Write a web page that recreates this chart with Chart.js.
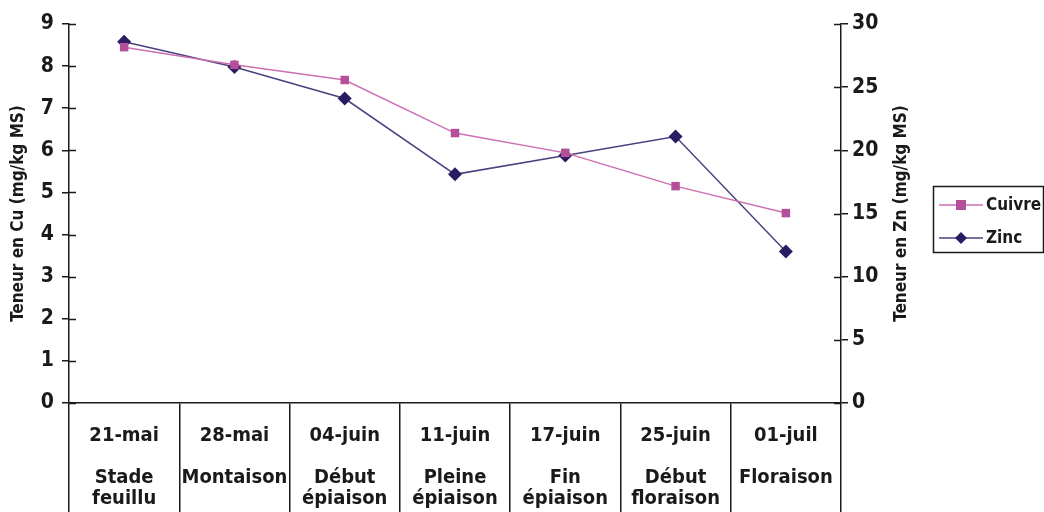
<!DOCTYPE html>
<html>
<head>
<meta charset="utf-8">
<script src="https://cdn.jsdelivr.net/npm/chart.js@4.4.0/dist/chart.umd.min.js"></script>
<style>
  html, body { margin: 0; padding: 0; background: #fff; }
  #wrap { width: 1044px; height: 512px; position: relative; }
</style>
</head>
<body>
<div id="wrap"><canvas id="chart"></canvas></div>
<script>
// Données
const dates = ['21-mai', '28-mai', '04-juin', '11-juin', '17-juin', '25-juin', '01-juil'];
const stades = [['Stade', 'feuillu'], ['Montaison'], ['Début', 'épiaison'], ['Pleine', 'épiaison'],
                ['Fin', 'épiaison'], ['Début', 'floraison'], ['Floraison']];
const cuivre = [8.45, 8.03, 7.67, 6.41, 5.94, 5.15, 4.51];
const zinc = [28.6, 26.6, 24.1, 18.1, 19.6, 21.1, 12.0];

const FONT = '"Liberation Sans Narrow", "DejaVu Sans Condensed", "Liberation Sans", sans-serif';
const INK = '#1a1a1a';
const TITRE_ZN = 'Teneur en Zn (mg/kg MS)';

// étiquettes multi-lignes : date, ligne vide, stade
const labels = dates.map((d, i) => [d, ''].concat(stades[i]));

// petites marques de graduation qui traversent les axes + titre de l'axe droit (lu de bas en haut)
const crossTicks = {
    id: 'crossTicks',
    afterDraw(chart) {
        const ctx = chart.ctx;
        ctx.save();
        ctx.strokeStyle = INK;
        ctx.lineWidth = 1.5;
        const y = chart.scales.y, y1 = chart.scales.y1;
        y.ticks.forEach(t => {
            const p = Math.round(y.getPixelForValue(t.value)) + 0.5;
            ctx.beginPath(); ctx.moveTo(y.right, p); ctx.lineTo(y.right + 7, p); ctx.stroke();
        });
        y1.ticks.forEach(t => {
            const p = Math.round(y1.getPixelForValue(t.value)) + 0.5;
            ctx.beginPath(); ctx.moveTo(y1.left - 7, p); ctx.lineTo(y1.left, p); ctx.stroke();
        });
        ctx.translate(y1.right - 13, (y1.top + y1.bottom) / 2);
        ctx.rotate(-Math.PI / 2);
        ctx.fillStyle = INK;
        ctx.font = 'bold 17px ' + FONT;
        ctx.textAlign = 'center';
        ctx.textBaseline = 'middle';
        ctx.fillText(TITRE_ZN, 0, 0);
        ctx.restore();
    }
};

// légende encadrée à droite
const boxLegend = {
    id: 'boxLegend',
    afterDraw(chart) {
        const ctx = chart.ctx;
        const x0 = chart.chartArea.right + 92, y0 = 186, w = 110, h = 66;
        ctx.save();
        ctx.strokeStyle = INK;
        ctx.lineWidth = 1.5;
        ctx.strokeRect(x0 + 0.5, y0 + 0.5, w, h);
        ctx.font = 'bold 17px ' + FONT;
        ctx.textBaseline = 'middle';
        chart.data.datasets.forEach((ds, i) => {
            const yy = y0 + 19 + i * 33;
            ctx.strokeStyle = ds.borderColor;
            ctx.lineWidth = 1.5;
            ctx.beginPath(); ctx.moveTo(x0 + 6, yy); ctx.lineTo(x0 + 50, yy); ctx.stroke();
            ctx.fillStyle = ds.pointBackgroundColor;
            const cx = x0 + 28;
            if (ds.pointStyle === 'rect') {
                ctx.fillRect(cx - 5, yy - 5, 10, 10);
            } else {
                ctx.beginPath();
                ctx.moveTo(cx, yy - 6); ctx.lineTo(cx + 6, yy); ctx.lineTo(cx, yy + 6); ctx.lineTo(cx - 6, yy);
                ctx.closePath(); ctx.fill();
            }
            ctx.fillStyle = INK;
            ctx.fillText(ds.label, x0 + 53, yy + 1);
        });
        ctx.restore();
    }
};

new Chart(document.getElementById('chart'), {
    type: 'line',
    data: {
        labels: labels,
        datasets: [
            {
                label: 'Cuivre',
                data: cuivre,
                yAxisID: 'y',
                borderColor: '#cc6fb3',
                borderWidth: 1.5,
                pointStyle: 'rect',
                pointRadius: 6,
                pointBackgroundColor: '#b4509a',
                pointBorderColor: '#b4509a',
                pointBorderWidth: 0,
                tension: 0
            },
            {
                label: 'Zinc',
                data: zinc,
                yAxisID: 'y1',
                borderColor: '#4a4280',
                borderWidth: 1.5,
                pointStyle: 'rectRot',
                pointRadius: 7,
                pointBackgroundColor: '#2a1c62',
                pointBorderColor: '#2a1c62',
                pointBorderWidth: 0,
                tension: 0
            }
        ]
    },
    options: {
        responsive: true,
        maintainAspectRatio: false,
        animation: false,
        layout: { padding: { left: 8, right: 129, top: 24, bottom: 0 } },
        plugins: {
            legend: { display: false },
            tooltip: { enabled: false }
        },
        scales: {
            x: {
                offset: true,
                afterFit: s => { s.height = 109; },
                grid: {
                    offset: true,
                    drawOnChartArea: false,
                    tickLength: 109,
                    color: INK,
                    lineWidth: 1.5
                },
                border: { color: INK, width: 1.5 },
                ticks: {
                    color: INK,
                    font: { family: FONT, size: 20, weight: 'bold', lineHeight: 1.05 },
                    padding: -87,
                    maxRotation: 0,
                    autoSkip: false
                }
            },
            y: {
                position: 'left',
                min: 0, max: 9,
                afterFit: s => { s.width = 61; },
                grid: { drawOnChartArea: false, tickLength: 7, color: INK, lineWidth: 1.5 },
                border: { color: INK, width: 1.5 },
                ticks: {
                    stepSize: 1,
                    color: INK,
                    padding: 8,
                    font: { family: FONT, size: 21, weight: 'bold' }
                },
                title: {
                    display: true,
                    text: 'Teneur en Cu (mg/kg MS)',
                    color: INK,
                    font: { family: FONT, size: 17, weight: 'bold' },
                    padding: 0
                }
            },
            y1: {
                position: 'right',
                min: 0, max: 30,
                afterFit: s => { s.width = 74; },
                grid: { drawOnChartArea: false, tickLength: 7, color: INK, lineWidth: 1.5 },
                border: { color: INK, width: 1.5 },
                ticks: {
                    stepSize: 5,
                    color: INK,
                    padding: 4,
                    font: { family: FONT, size: 21, weight: 'bold' }
                }
            }
        }
    },
    plugins: [crossTicks, boxLegend]
});
</script>
</body>
</html>
